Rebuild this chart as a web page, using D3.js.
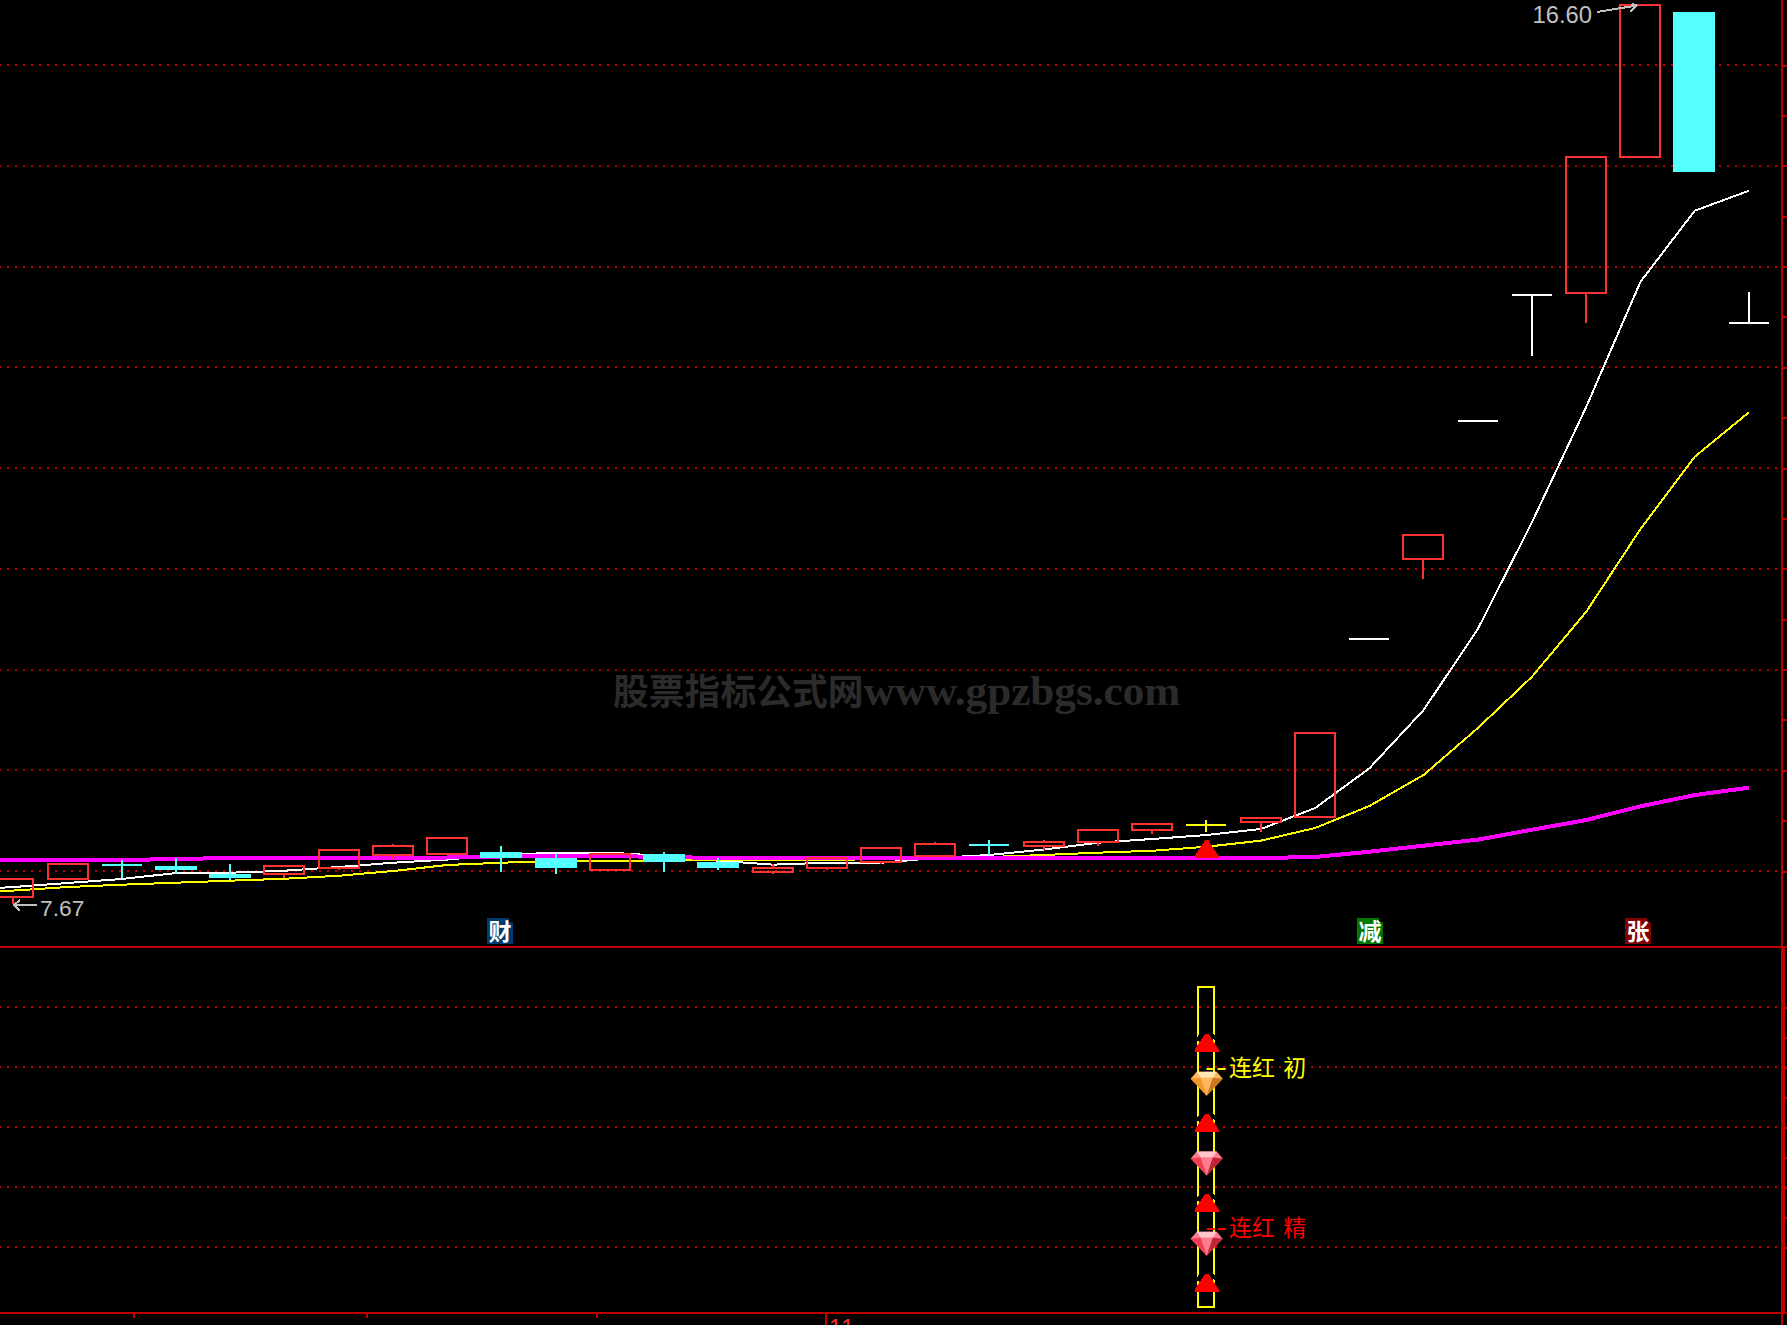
<!DOCTYPE html>
<html>
<head>
<meta charset="utf-8">
<script src="https://cdn.jsdelivr.net/npm/d3@7/dist/d3.min.js"></script>
<style>
html,body{margin:0;padding:0;background:#000;overflow:hidden;width:1787px;height:1325px}
svg{display:block}
</style>
</head>
<body>
<div id="chart"></div>
<script>
// ---- candles (33 sessions, prices in yuan) ----
const opens  = [7.739,7.918,8.063,8.05,7.97,7.973,8.033,8.156,8.172,8.189,8.129,8.013,8.169,8.089,7.99,8.033,8.092,8.152,8.261,8.248,8.291,8.41,8.457,8.486,8.536,10.303,11.097,12.47,13.717,13.737,15.087,16.523,13.442];
const closes = [7.924,8.066,8.063,8.01,7.93,8.047,8.205,8.245,8.325,8.129,8.03,8.166,8.089,8.03,8.03,8.129,8.225,8.265,8.261,8.288,8.404,8.463,8.457,8.526,9.37,10.303,11.335,12.47,13.717,15.09,16.6,14.94,13.442];
const highs  = [7.924,8.066,8.109,8.129,8.069,8.047,8.205,8.268,8.325,8.248,8.169,8.166,8.189,8.129,8.069,8.129,8.225,8.288,8.308,8.308,8.404,8.463,8.506,8.526,9.37,10.303,11.335,12.47,13.717,15.09,16.6,16.523,13.744];
const lows   = [7.67,7.918,7.928,7.97,7.911,7.928,8.01,8.116,8.172,7.99,7.97,8.013,7.99,8.01,7.97,8.01,8.07,8.152,8.159,8.209,8.251,8.37,8.387,8.387,8.536,10.303,10.895,12.47,13.115,13.436,15.087,14.94,13.442];
const dojiColors = {2:"#54ffff",18:"#54ffff",22:"#ffff00",25:"#ffffff",27:"#ffffff",28:"#ffffff",32:"#ffffff"};

// ---- moving averages, first value belongs to the session before the window (index -1) ----
const maWhite   = [7.811,7.841,7.881,7.921,7.98,7.983,8.003,8.04,8.082,8.114,8.159,8.182,8.182,8.149,8.102,8.063,8.082,8.082,8.129,8.159,8.213,8.281,8.318,8.357,8.417,8.625,9.019,9.598,10.402,11.464,12.608,13.849,14.554,14.752];
const maYellow  = [7.792,7.806,7.841,7.864,7.884,7.904,7.923,7.953,8.0,8.06,8.082,8.102,8.102,8.102,8.109,8.109,8.109,8.119,8.129,8.139,8.159,8.182,8.201,8.241,8.301,8.427,8.645,8.953,9.419,9.929,10.574,11.395,12.112,12.553];
const maMagenta = [8.109,8.109,8.109,8.109,8.119,8.129,8.129,8.129,8.129,8.134,8.144,8.149,8.149,8.139,8.129,8.129,8.129,8.129,8.129,8.129,8.129,8.129,8.129,8.129,8.129,8.139,8.192,8.251,8.311,8.41,8.506,8.642,8.754,8.827];

// ---- gridlines and axis ticks ----
const priceGrid  = [8,9,10,11,12,13,14,15,16];
const priceTicks = [8,8.5,9,9.5,10,10.5,11,11.5,12,12.5,13,13.5,14,14.5,15,15.5,16];
const subGrid    = [1,2,3,4,5];
const subTicks   = [1,1.5,2,2.5,3,3.5,4,4.5,5];
const timeTicks  = [2.22,6.5,10.74,14.98];
const timeLabel  = "11";

// ---- annotations ----
const highLabel = "16.60", lowLabel = "7.67";
const badges = [{i:8.99,text:"财",color:"#003a6e"},{i:25.03,text:"减",color:"#007800"},{i:29.97,text:"张",color:"#800000"}];
const signalBar = 22;
const signalTop = 5.34, signalBottom = 0;
const triangleLevels = [0.255,1.588,2.92,4.255];
const gemLevels = [{v:3.72,kind:"orange"},{v:2.39,kind:"pink"},{v:1.055,kind:"pink"}];
const subLabels = [{v:4,text:"连红 初",color:"#ffff00"},{v:1.333,text:"连红 精",color:"#ff0000"}];
const watermarkCJK = "股票指标公式网", watermarkLatin = "www.gpzbgs.com";

const RED="#ff3232", AXIS="#c00000", CYAN="#54ffff", GREY="#c0c0c0";
const W=1787,H=1325;

const x = d3.scaleLinear().domain([0,32]).range([13.6,1749]);
const y = d3.scaleLinear().domain([8,16]).range([871,65]);
const ySub = d3.scaleLinear().domain([0,5]).range([1307,1007]);

const svg = d3.select("#chart").append("svg").attr("width",W).attr("height",H).attr("viewBox",`0 0 ${W} ${H}`);
svg.append("rect").attr("width",W).attr("height",H).attr("fill","#000");
const crisp = svg.append("g").attr("shape-rendering","crispEdges");

// grid
const gridLine=(g,vals,sc)=>g.selectAll(null).data(vals).enter().append("line")
  .attr("x1",-1).attr("x2",1780).attr("y1",d=>sc(d)).attr("y2",d=>sc(d))
  .attr("stroke",AXIS).attr("stroke-width",2).attr("stroke-dasharray","2 6");
gridLine(crisp,priceGrid,y);
gridLine(crisp,subGrid,ySub);

// watermark
const wm = svg.append("text").attr("x",613).attr("y",705).attr("fill","#2b2b2b").attr("font-weight","bold");
wm.append("tspan").attr("font-family","'Noto Sans CJK SC'").attr("font-size",35.8).text(watermarkCJK);
wm.append("tspan").attr("font-family","'Liberation Serif'").attr("font-size",43.2).text(watermarkLatin);

// axes and frame
const rightMain = d3.axisRight(y).tickValues(priceTicks).tickSize(5).tickFormat("");
const rightSub  = d3.axisRight(ySub).tickValues(subTicks).tickSize(5).tickFormat("");
const bottom    = d3.axisBottom(x).tickValues(timeTicks).tickSize(5).tickFormat("");
[[rightMain,`translate(1782,0)`],[rightSub,`translate(1782,0)`],[bottom,`translate(0,1313)`]].forEach(([ax,t])=>{
  const g=crisp.append("g").attr("transform",t).call(ax);
  g.select(".domain").remove();
  g.selectAll("line").attr("stroke",AXIS).attr("stroke-width",2);
});
crisp.append("line").attr("x1",x(timeTicks[3])).attr("x2",x(timeTicks[3])).attr("y1",1313).attr("y2",H).attr("stroke",AXIS).attr("stroke-width",2);
[947,1313].forEach(v=>crisp.append("line").attr("x1",0).attr("x2",W).attr("y1",v).attr("y2",v).attr("stroke",AXIS).attr("stroke-width",2));
crisp.append("line").attr("x1",1782).attr("x2",1782).attr("y1",0).attr("y2",H).attr("stroke",AXIS).attr("stroke-width",2);
crisp.append("line").attr("x1",1783).attr("x2",1783).attr("y1",947).attr("y2",1313).attr("stroke",AXIS).attr("stroke-width",4);
svg.append("text").attr("x",x(timeTicks[3])+3).attr("y",1336).attr("fill",RED)
  .attr("font-family","'Liberation Sans'").attr("font-size",23).attr("letter-spacing",1.2).text(timeLabel);

// moving averages
const maLine = d3.line().x((d,i)=>x(i-1)).y(d=>y(d));
[[maWhite,"#ffffff",2],[maYellow,"#ffff00",2],[maMagenta,"#ff00ff",4]].forEach(([arr,c,w])=>{
  crisp.append("path").attr("d",maLine(arr)).attr("fill","none").attr("stroke",c).attr("stroke-width",w);
});

// candles
const half=20;
const bars = opens.map((o,i)=>({i,o,c:closes[i],h:highs[i],l:lows[i]}));
const candle = crisp.append("g").selectAll("g").data(bars).enter().append("g");
candle.each(function(d){
  const g=d3.select(this), cx=Math.round(x(d.i)-0.3);
  const doji=d.o===d.c;
  const col = doji ? dojiColors[d.i] : (d.c>d.o ? RED : CYAN);
  const top=y(Math.max(d.o,d.c)), bot=y(Math.min(d.o,d.c));
  if(d.h>Math.max(d.o,d.c)) g.append("line").attr("x1",cx).attr("x2",cx).attr("y1",y(d.h)).attr("y2",top).attr("stroke",col).attr("stroke-width",2);
  if(d.l<Math.min(d.o,d.c)) g.append("line").attr("x1",cx).attr("x2",cx).attr("y1",bot).attr("y2",y(d.l)).attr("stroke",col).attr("stroke-width",2);
  if(doji) g.append("line").attr("x1",cx-half).attr("x2",cx+half).attr("y1",top).attr("y2",top).attr("stroke",col).attr("stroke-width",2);
  else if(d.c>d.o) g.append("rect").attr("x",cx-half).attr("width",half*2).attr("y",top).attr("height",bot-top).attr("fill","none").attr("stroke",col).attr("stroke-width",2);
  else g.append("rect").attr("x",cx-21).attr("width",42).attr("y",top).attr("height",bot-top).attr("fill",col);
});

// rising triangle marker on the price chart and in the signal pane
const triangle = (g,cx,bottomY,h)=>g.append("path")
  .attr("d",d3.line()([[cx-12,bottomY],[cx-12,bottomY-2],[cx-1.5,bottomY-h],[cx+1.5,bottomY-h],[cx+12,bottomY-2],[cx+12,bottomY]])+"Z")
  .attr("fill","#ff0000");
triangle(crisp,x(signalBar),858,18);

// price annotations
const hx=x(30);
svg.append("text").attr("x",1592).attr("y",23).attr("text-anchor","end").attr("fill",GREY)
  .attr("font-family","'Liberation Sans'").attr("font-size",23.8).text(highLabel);
crisp.append("path").attr("d",d3.line()([[1597,12],[hx-4,y(16.6)+1]])).attr("stroke",GREY).attr("stroke-width",2).attr("fill","none");
crisp.append("path").attr("d",d3.line()([[hx-9,y(16.6)-1],[hx-4,y(16.6)+1],[hx-10,y(16.6)+7]])).attr("stroke",GREY).attr("stroke-width",2).attr("fill","none");
svg.append("text").attr("x",40).attr("y",916).attr("fill",GREY)
  .attr("font-family","'Liberation Sans'").attr("font-size",22.8).text(lowLabel);
crisp.append("path").attr("d",d3.line()([[37,905],[14,905]])).attr("stroke",GREY).attr("stroke-width",2).attr("fill","none");
crisp.append("path").attr("d",d3.line()([[20,900],[14,905],[20,911]])).attr("stroke",GREY).attr("stroke-width",2).attr("fill","none");

// badges
badges.forEach(b=>{
  const x0=Math.round(x(b.i))-14;
  crisp.append("path").attr("d",d3.line()([[x0,918],[x0+22,918],[x0+22,922],[x0+26,922],[x0+26,944],[x0,944]])+"Z").attr("fill",b.color);
  svg.append("text").attr("x",x0+13).attr("y",940).attr("text-anchor","middle").attr("fill","#fff").attr("font-weight","bold")
    .attr("font-family","'Noto Sans CJK SC'").attr("font-size",23).text(b.text);
});

// signal pane
const sx=x(signalBar);
crisp.append("rect").attr("x",sx-8.5).attr("width",16).attr("y",ySub(signalTop)).attr("height",ySub(signalBottom)-ySub(signalTop))
  .attr("fill","none").attr("stroke","#ffff00").attr("stroke-width",2);
triangleLevels.forEach(v=>{
  const by=ySub(v);
  crisp.append("path").attr("d",d3.line()([[sx-10,by-11],[sx-3,by-21],[sx+3,by-21],[sx+10,by-11]])).attr("stroke","#000").attr("stroke-width",3).attr("fill","none");
  triangle(crisp,sx,by,18);
});
const gemPal={orange:["#ffe6b4","#ffb65c","#f0962e","#c9781e"],pink:["#ffc4cc","#ff7c8c","#ee3e54","#c02438"]};
gemLevels.forEach(g=>{
  const cy=ySub(g.v), p=gemPal[g.kind];
  const G=svg.append("g");
  const poly=(pts,c)=>G.append("path").attr("d",d3.line()(pts.map(q=>[sx+q[0],cy+q[1]]))+"Z").attr("fill",c);
  poly([[-16,-5],[-10,-12],[10,-12],[16,-5],[0,12]],p[1]);
  poly([[-10,-12],[10,-12],[6,-6],[-6,-6]],p[0]);
  poly([[-16,-5],[-6,-6],[0,12]],p[2]);
  poly([[16,-5],[6,-6],[0,12]],p[3]);
  poly([[-6,-6],[6,-6],[0,8]],p[1]);
});
subLabels.forEach(l=>{
  const cy=ySub(l.v);
  svg.append("text").attr("x",1205).attr("y",cy+8).attr("fill",l.color).attr("font-family","'Liberation Sans'")
    .attr("font-size",23).attr("textLength",22).attr("lengthAdjust","spacingAndGlyphs").text("--");
  svg.append("text").attr("x",1229).attr("y",cy+9).attr("fill",l.color).attr("font-family","'Noto Sans CJK SC'")
    .attr("font-size",23).attr("word-spacing",3).text(l.text);
});
</script>
</body>
</html>
